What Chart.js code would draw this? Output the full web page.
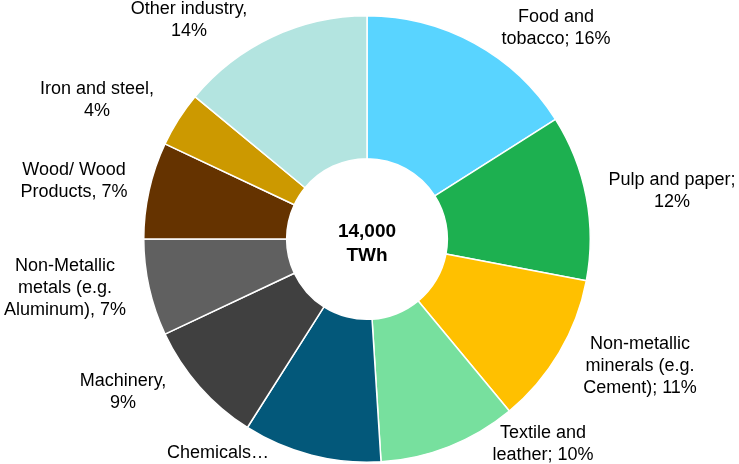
<!DOCTYPE html>
<html lang="en">
<head>
  <meta charset="UTF-8" />
  <title>Industrial energy use by sector</title>
  <script src="https://cdn.jsdelivr.net/npm/chart.js"></script>
  <style>
    body { margin: 0; background: #fff; }
    canvas { display: block; }
  </style>
</head>
<body>
<canvas id="sectorChart" width="739" height="464"></canvas>
<script>
// data
const sectors = ['Food and tobacco', 'Pulp and paper', 'Non-metallic minerals', 'Textile and leather',
  'Chemicals', 'Machinery', 'Non-Metallic metals', 'Wood/ Wood Products', 'Iron and steel', 'Other industry'];
const shares = [16, 12, 11, 10, 10, 9, 7, 7, 4, 14];
const labelLines = [
  ['Food and', 'tobacco; 16%'],
  ['Pulp and paper;', '12%'],
  ['Non-metallic', 'minerals (e.g.', 'Cement); 11%'],
  ['Textile and', 'leather; 10%'],
  ['Chemicals\u2026'],
  ['Machinery,', '9%'],
  ['Non-Metallic', 'metals (e.g.', 'Aluminum), 7%'],
  ['Wood/ Wood', 'Products, 7%'],
  ['Iron and steel,', '4%'],
  ['Other industry,', '14%']
];
const centerText = ['14,000', 'TWh'];

const colors = ['#59d4ff', '#1db050', '#ffc000', '#77e09e', '#03587a',
  '#404040', '#606060', '#653300', '#cc9900', '#b3e4e0'];
// label block offsets from the doughnut centre (layout only)
const labelOffsets = [
  [189, -211], [305, -48], [273, 127], [176, 205], [-149, 214],
  [-244, 153], [-302, 49], [-293, -58], [-270, -139], [-178, -219]
];

const labelPlugin = {
  id: 'outsideLabels',
  afterDraw(chart) {
    const { ctx } = chart;
    const arcs = chart.getDatasetMeta(0).data;
    const cx = arcs[0].x, cy = arcs[0].y;
    ctx.save();
    ctx.fillStyle = '#000';
    ctx.textAlign = 'center';
    ctx.textBaseline = 'middle';
    ctx.font = '18px "Liberation Sans", Arial, sans-serif';
    const lh = 22;
    labelLines.forEach((lines, i) => {
      const x = cx + labelOffsets[i][0];
      const y0 = cy + labelOffsets[i][1] - (lines.length - 1) * lh / 2;
      lines.forEach((t, j) => ctx.fillText(t, x, y0 + j * lh));
    });
    ctx.font = 'bold 19px "Liberation Sans", Arial, sans-serif';
    ctx.fillText(centerText[0], cx, cy - 7);
    ctx.fillText(centerText[1], cx, cy + 17);
    ctx.restore();
  }
};

new Chart(document.getElementById('sectorChart'), {
  type: 'doughnut',
  data: {
    labels: sectors,
    datasets: [{
      data: shares,
      backgroundColor: colors,
      borderColor: '#fff',
      borderWidth: 1.5
    }]
  },
  options: {
    responsive: false,
    animation: false,
    devicePixelRatio: 1,
    cutout: '36%',
    layout: { padding: { top: 15, bottom: 1, left: 0, right: 5 } },
    plugins: {
      legend: { display: false },
      tooltip: { enabled: false }
    }
  },
  plugins: [labelPlugin]
});
</script>
</body>
</html>
